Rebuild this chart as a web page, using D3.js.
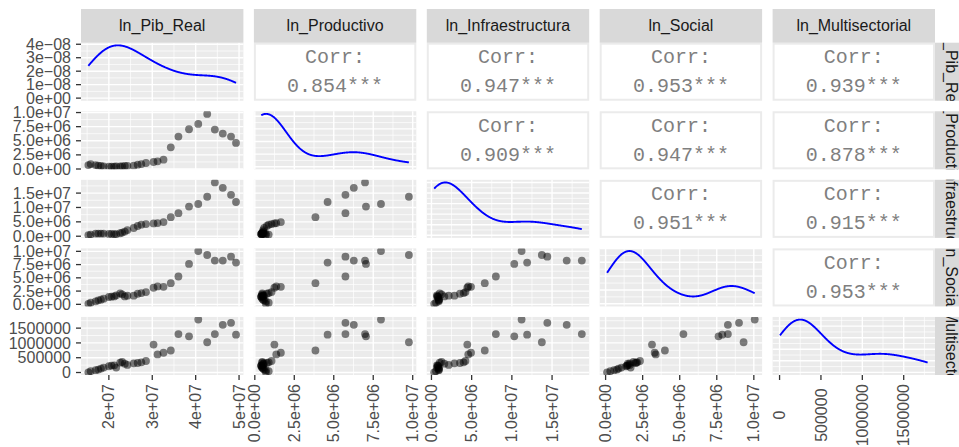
<!DOCTYPE html>
<html>
<head>
<meta charset="utf-8">
<script src="https://cdn.jsdelivr.net/npm/d3@7"></script>
<style>
  body { margin: 0; background: #fff; }
  svg { display: block; }
</style>
</head>
<body>
<div id="chart"></div>
<script>
// variables of the pairs matrix
const varNames = ["ln_Pib_Real", "ln_Productivo", "ln_Infraestructura", "ln_Social", "ln_Multisectorial"];

const pibReal = [15280000, 15810000, 16960000, 17570000, 18180000, 18790000, 20010000, 20620000, 21230000, 21690000,
  22600000, 23060000, 23670000, 24280000, 25730000, 26640000, 27480000, 28550000, 30300000, 31220000,
  32590000, 34270000, 36030000, 38470000, 40600000, 42660000, 44420000, 46250000, 48150000, 49300000];
const productivo = [700000, 880000, 700000, 590000, 530000, 470000, 410000, 410000, 410000, 470000,
  470000, 470000, 530000, 530000, 590000, 760000, 880000, 1060000, 1240000, 1360000,
  1650000, 3840000, 5740000, 7040000, 7990000, 9760000, 6980000, 6270000, 5740000, 4610000];
const infraestructura = [340000, 570000, 920000, 920000, 920000, 920000, 800000, 800000, 690000, 690000,
  1030000, 1260000, 1600000, 2150000, 2860000, 3550000, 4000000, 4230000, 4460000, 4580000,
  4920000, 6630000, 8010000, 10300000, 11210000, 13730000, 18700000, 16820000, 14410000, 11900000];
const social = [100000, 320000, 570000, 760000, 880000, 1070000, 1380000, 1440000, 1500000, 1690000,
  2070000, 1880000, 1500000, 1630000, 1630000, 2000000, 2130000, 2320000, 3130000, 3380000,
  3310000, 4000000, 5250000, 7620000, 10060000, 9310000, 8250000, 8250000, 9000000, 7870000];
const multisectorial = [5000, 44000, 78000, 100000, 133000, 167000, 211000, 233000, 244000, 167000,
  333000, 356000, 300000, 256000, 311000, 322000, 344000, 389000, 944000, 611000,
  667000, 744000, 1300000, 1222000, 1789000, 1022000, 1300000, 1611000, 1678000, 1278000];

// correlation labels of the upper triangle, row by row
const corrLabels = ["0.854***", "0.947***", "0.953***", "0.939***",
  "0.909***", "0.947***", "0.878***",
  "0.951***", "0.915***",
  "0.953***"];

// axis breaks and their labels
const pibTicks = [2e7, 3e7, 4e7, 5e7];
const pibTickLabels = ["2e+07", "3e+07", "4e+07", "5e+07"];
const prodTicks = [0, 2.5e6, 5e6, 7.5e6, 1e7];
const prodTickLabels = ["0.0e+00", "2.5e+06", "5.0e+06", "7.5e+06", "1.0e+07"];
const infraTicks = [0, 5e6, 1e7, 1.5e7];
const infraTickLabels = ["0.0e+00", "5.0e+06", "1.0e+07", "1.5e+07"];
const socialTicks = [0, 2.5e6, 5e6, 7.5e6, 1e7];
const socialTickLabels = ["0.0e+00", "2.5e+06", "5.0e+06", "7.5e+06", "1.0e+07"];
const multiTicks = [0, 5e5, 1e6, 1.5e6];
const multiTickLabels = ["0", "500000", "1000000", "1500000"];
const densTicks = [0, 1e-8, 2e-8, 3e-8, 4e-8];
const densTickLabels = ["0e+00", "1e\u221208", "2e\u221208", "3e\u221208", "4e\u221208"];

const series = [pibReal, productivo, infraestructura, social, multisectorial];
const ticks = [pibTicks, prodTicks, infraTicks, socialTicks, multiTicks];
const tickLabels = [pibTickLabels, prodTickLabels, infraTickLabels, socialTickLabels, multiTickLabels];

const width = 959, height = 447;
const gridLeft = 81, gridTop = 42.7;
const panelW = 162.4, panelH = 58.06, gap = 10.5, stripH = 33.7;
const fontSize = 16;
const nv = series.length;

const colX = i => gridLeft + i * (panelW + gap);
const rowY = i => gridTop + i * (panelH + gap);

const svg = d3.select("#chart")
    .append("svg")
    .attr("width", width)
    .attr("height", height)
    .style("font-family", "'Liberation Sans', Arial, sans-serif");

svg.append("rect").attr("width", width).attr("height", height).attr("fill", "#fff");

function expanded(values) {
    const [a, b] = d3.extent(values);
    const r = b - a;
    return [a - 0.05 * r, b + 0.05 * r];
}

// gaussian kde with R's bw.nrd0, evaluated over the data range
function kde(values) {
    const s = values.slice().sort(d3.ascending);
    const sd = d3.deviation(s);
    const iqr = d3.quantile(s, 0.75) - d3.quantile(s, 0.25);
    const bw = 0.9 * Math.min(sd, iqr / 1.34) * Math.pow(s.length, -0.2);
    const [lo, hi] = d3.extent(s);
    return d3.range(512).map(k => {
        const x = lo + (hi - lo) * k / 511;
        const y = d3.mean(s, v => Math.exp(-0.5 * ((x - v) / bw) ** 2)) / (bw * Math.sqrt(2 * Math.PI));
        return [x, y];
    });
}

const xScales = series.map((s, i) => d3.scaleLinear().domain(expanded(s)).range([colX(i), colX(i) + panelW]));
const yScales = series.map((s, i) => d3.scaleLinear().domain(expanded(s)).range([rowY(i) + panelH, rowY(i)]));
const dens = series.map(kde);
const densScales = dens.map((d, i) => {
    const m = d3.max(d, p => p[1]);
    return d3.scaleLinear().domain([-0.05 * m, 1.05 * m]).range([rowY(i) + panelH, rowY(i)]);
});

function inside(vals, dom) {
    return vals.filter(v => v >= Math.min(...dom) - 1e-12 && v <= Math.max(...dom) + 1e-12);
}
function minors(major, dom) {
    const step = major[1] - major[0];
    const out = [];
    for (let v = major[0] - step / 2; v <= dom[1]; v += step) {
        if (v >= dom[0]) out.push(v);
    }
    return out;
}

const defs = svg.append("defs");

for (let r = 0; r < nv; r++) {
    for (let c = 0; c < nv; c++) {
        const x0 = colX(c), y0 = rowY(r);
        const g = svg.append("g");

        if (r < c) {
            // correlation panel
            g.append("rect")
                .attr("x", x0 + 1).attr("y", y0 + 1)
                .attr("width", panelW - 2).attr("height", panelH - 2)
                .attr("fill", "#fff")
                .attr("stroke", "#ebebeb")
                .attr("stroke-width", 2);
            const idx = r * nv - (r * (r + 1)) / 2 + (c - r - 1);
            const cx = x0 + panelW / 2, cy = y0 + panelH / 2;
            const corr = g.append("g")
                .attr("font-family", "'Liberation Mono', 'Courier New', monospace")
                .attr("font-size", 20)
                .attr("fill", "#7f7f7f")
                .attr("text-anchor", "middle");
            corr.append("text").attr("x", cx).attr("y", cy - 15).attr("dy", "0.33em").text("Corr:");
            corr.append("text").attr("x", cx).attr("y", cy + 14).attr("dy", "0.33em").text(corrLabels[idx]);
            continue;
        }

        const xs = xScales[c];
        const ys = r === c ? densScales[r] : yScales[r];

        g.append("rect")
            .attr("x", x0).attr("y", y0)
            .attr("width", panelW).attr("height", panelH)
            .attr("fill", "#ebebeb");

        const xMaj = inside(ticks[c], xs.domain());
        const yMaj = r === c ? (r === 0 ? densTicks : ys.ticks(4)) : inside(ticks[r], ys.domain());

        // minor grid
        g.selectAll(".vmin").data(minors(ticks[c], xs.domain())).join("line")
            .attr("x1", d => xs(d)).attr("x2", d => xs(d))
            .attr("y1", y0).attr("y2", y0 + panelH)
            .attr("stroke", "#fff").attr("stroke-width", 0.7);
        const yTickSet = r === c ? yMaj : ticks[r];
        g.selectAll(".hmin").data(minors(yTickSet, ys.domain())).join("line")
            .attr("x1", x0).attr("x2", x0 + panelW)
            .attr("y1", d => ys(d)).attr("y2", d => ys(d))
            .attr("stroke", "#fff").attr("stroke-width", 0.7);
        // major grid
        g.selectAll(".vmaj").data(xMaj).join("line")
            .attr("x1", d => xs(d)).attr("x2", d => xs(d))
            .attr("y1", y0).attr("y2", y0 + panelH)
            .attr("stroke", "#fff").attr("stroke-width", 1.4);
        g.selectAll(".hmaj").data(inside(yMaj, ys.domain())).join("line")
            .attr("x1", x0).attr("x2", x0 + panelW)
            .attr("y1", d => ys(d)).attr("y2", d => ys(d))
            .attr("stroke", "#fff").attr("stroke-width", 1.4);

        const clipId = `clip-${r}-${c}`;
        defs.append("clipPath").attr("id", clipId)
            .append("rect").attr("x", x0).attr("y", y0).attr("width", panelW).attr("height", panelH);
        const inner = g.append("g").attr("clip-path", `url(#${clipId})`);

        if (r === c) {
            inner.append("path")
                .datum(dens[r])
                .attr("fill", "none")
                .attr("stroke", "#0000ff")
                .attr("stroke-width", 1.9)
                .attr("d", d3.line().x(d => xs(d[0])).y(d => ys(d[1])));
        } else {
            inner.selectAll("circle")
                .data(d3.range(series[c].length))
                .join("circle")
                .attr("cx", i => xs(series[c][i]))
                .attr("cy", i => ys(series[r][i]))
                .attr("r", 3.9)
                .attr("fill", "#000")
                .attr("fill-opacity", 0.5);
        }
    }
}

// top strips
for (let c = 0; c < nv; c++) {
    svg.append("rect")
        .attr("x", colX(c)).attr("y", gridTop - stripH)
        .attr("width", panelW).attr("height", stripH)
        .attr("fill", "#d9d9d9");
    svg.append("text")
        .attr("x", colX(c) + panelW / 2).attr("y", gridTop - stripH / 2)
        .attr("dy", "0.35em")
        .attr("text-anchor", "middle")
        .attr("font-size", fontSize)
        .attr("fill", "#1a1a1a")
        .text(varNames[c]);
}

// right strips (clipped like ggplot)
const stripX = colX(nv - 1) + panelW;
for (let r = 0; r < nv; r++) {
    const id = `strip-${r}`;
    defs.append("clipPath").attr("id", id)
        .append("rect").attr("x", stripX).attr("y", rowY(r)).attr("width", stripH).attr("height", panelH);
    svg.append("rect")
        .attr("x", stripX).attr("y", rowY(r))
        .attr("width", stripH).attr("height", panelH)
        .attr("fill", "#d9d9d9");
    svg.append("g").attr("clip-path", `url(#${id})`)
        .append("text")
        .attr("transform", `translate(${stripX + stripH / 2},${rowY(r) + panelH / 2}) rotate(90)`)
        .attr("dy", "0.35em")
        .attr("text-anchor", "middle")
        .attr("font-size", fontSize)
        .attr("fill", "#1a1a1a")
        .text(varNames[r]);
}

// left axes
for (let r = 0; r < nv; r++) {
    const ys = r === 0 ? densScales[0] : yScales[r];
    const vals = r === 0 ? densTicks : ticks[r];
    const labs = r === 0 ? densTickLabels : tickLabels[r];
    vals.forEach((v, k) => {
        const y = ys(v);
        if (y < rowY(r) - 0.5 || y > rowY(r) + panelH + 0.5) return;
        svg.append("line")
            .attr("x1", gridLeft - 5).attr("x2", gridLeft)
            .attr("y1", y).attr("y2", y)
            .attr("stroke", "#333").attr("stroke-width", 1.3);
        svg.append("text")
            .attr("x", gridLeft - 10).attr("y", y)
            .attr("dy", "0.35em")
            .attr("text-anchor", "end")
            .attr("font-size", fontSize)
            .attr("fill", "#4d4d4d")
            .text(labs[k]);
    });
}

// bottom axes, rotated labels centred in each column's label band
const axisY = rowY(nv - 1) + panelH;
for (let c = 0; c < nv; c++) {
    const xs = xScales[c];
    const items = ticks[c].map((v, k) => ({ v, lab: tickLabels[c][k] }))
        .filter(d => xs(d.v) >= colX(c) - 0.5 && xs(d.v) <= colX(c) + panelW + 0.5);
    items.forEach(d => {
        svg.append("line")
            .attr("x1", xs(d.v)).attr("x2", xs(d.v))
            .attr("y1", axisY).attr("y2", axisY + 5)
            .attr("stroke", "#333").attr("stroke-width", 1.3);
    });
    const labels = svg.append("g").selectAll("text")
        .data(items)
        .join("text")
        .attr("text-anchor", "middle")
        .attr("dy", "0.35em")
        .attr("font-size", fontSize)
        .attr("fill", "#4d4d4d")
        .text(d => d.lab);
    const maxLen = d3.max(labels.nodes(), n => n.getComputedTextLength());
    labels.attr("transform", d => `translate(${xs(d.v)},${axisY + 9 + maxLen / 2}) rotate(-90)`);
}
</script>
</body>
</html>
